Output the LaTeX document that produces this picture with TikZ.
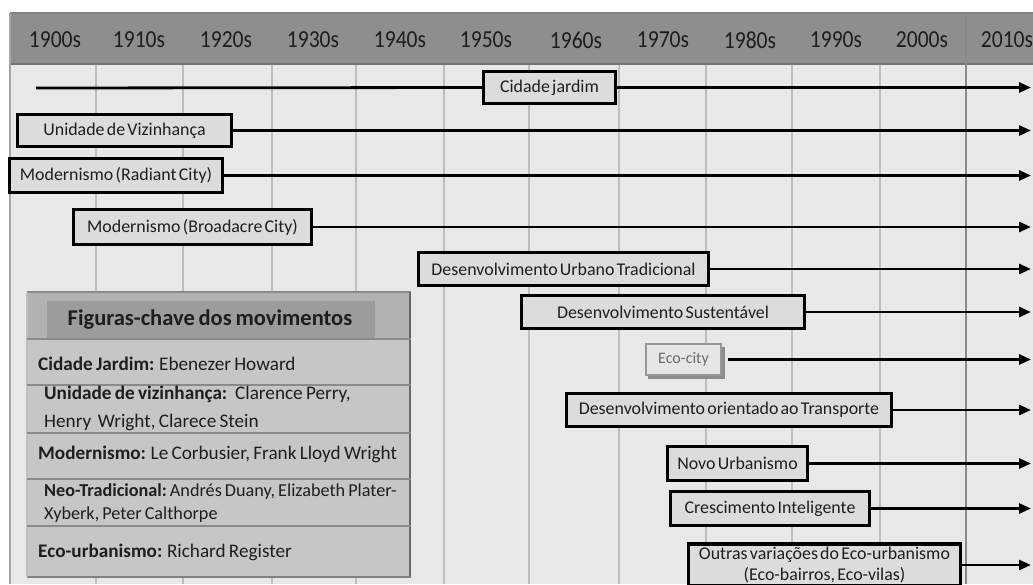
\documentclass[tikz,border=0pt]{standalone}
\usepackage{fontspec}
\setmainfont{Carlito}[WordSpace=0.55]
\newfontfamily\hdrfont{Carlito}[FakeStretch=0.88,WordSpace=0.55]
\newfontfamily\pfont{Carlito}[WordSpace=0.75]
\usetikzlibrary{arrows.meta}
\definecolor{hdrgray}{HTML}{8E8E8E}
\definecolor{bodygray}{HTML}{E8E8E8}
\definecolor{gridgray}{HTML}{BDBDBD}
\definecolor{boxgray}{HTML}{DCDCDC}
\definecolor{panelgray}{HTML}{C6C6C6}
\definecolor{paneltop}{HTML}{B2B2B2}
\definecolor{titlegray}{HTML}{9C9C9C}
\definecolor{sepgray}{HTML}{8A8A8A}
\definecolor{ink}{HTML}{1E1E1E}
\definecolor{ecoink}{HTML}{6A6A6A}
\tikzset{
  movbox/.style={draw=black, line width=3.2pt, fill=boxgray, inner sep=0pt, text=ink,
    font=\fontsize{17.9}{20.5}\selectfont, align=center},
  ecobox/.style={draw=gridgray!80!black, line width=2pt, fill=boxgray!70!white, inner sep=0pt,
    text=ecoink, font=\fontsize{16}{18}\selectfont},
  arr/.style={line width=2.8pt, -{Triangle[length=12pt,width=10pt]}},
  lead/.style={line width=2.8pt},
  hdrlab/.style={font=\hdrfont\fontsize{24.5}{26}\selectfont, text=ink, inner sep=0pt},
  ptext/.style={font=\pfont\fontsize{19.2}{23}\selectfont, text=ink, anchor=west, inner sep=0pt, align=left},
  ptitle/.style={font=\pfont\bfseries\fontsize{22.5}{25}\selectfont, text=ink, inner sep=0pt},
  grid/.style={draw=gridgray, line width=1.5pt},
  sep/.style={draw=sepgray, line width=2pt},
}
\begin{document}
\begin{tikzpicture}[x=1pt,y=-1pt]
\useasboundingbox (0,0) rectangle (1033,584);
\clip (0,0) rectangle (1033,584);
\fill[white] (0,0) rectangle (1033,584);
% body and header
\fill[bodygray] (10,64) rectangle (1033,584);
\fill[hdrgray] (10,13) rectangle (1033,64);
\draw[draw=gray, line width=1.5pt] (10,13) -- (1033,13);
\draw[draw=black!55, line width=2pt] (10,64) -- (1033,64);
\draw[draw=black!35, line width=1.5pt] (10,13) -- (10,584);
% column lines
\foreach \gx in {96,183,272,356,444,529,619,706,792,880}
  \draw[grid] (\gx,65) -- (\gx,584);
\draw[draw=sepgray, line width=2pt] (966,13) -- (966,584);
% header labels
\foreach \lab/\cx in {1900/55,1910/139,1920/226,1930/313,1940/400,1950/486,1960/576,1970/663,1980/750,1990/836,2000/922,2010/1007}
  \node[hdrlab] (h\lab) at (\cx,40) {\lab s};
% end coordinates
\coordinate (xend) at (1031,0);
\coordinate (cjL) at (36,88);
% movement boxes
\node[movbox, minimum width=132pt, minimum height=32pt] (cj) at (549.5,87.5) {Cidade jardim};
\node[movbox, minimum width=214pt, minimum height=32pt] (uv) at (124.5,130.5) {Unidade de Vizinhança};
\node[movbox, minimum width=213pt, minimum height=34pt] (mr) at (116,175.5) {Modernismo (Radiant City)};
\node[movbox, minimum width=238pt, minimum height=35pt] (mb) at (192.5,227) {Modernismo (Broadacre City)};
\node[movbox, minimum width=290pt, minimum height=33pt] (dut) at (563.5,269) {Desenvolvimento Urbano Tradicional};
\node[movbox, minimum width=283pt, minimum height=33pt] (ds) at (663,312) {Desenvolvimento Sustentável};
\fill[black!45] (647.5,346.5) rectangle (724.5,378.5);
\node[ecobox, minimum width=75pt, minimum height=31pt] (eco) at (683.5,359.5) {Eco-city};
\node[movbox, minimum width=325pt, minimum height=33pt] (dot) at (729,410) {Desenvolvimento orientado ao Transporte};
\node[movbox, minimum width=140pt, minimum height=34pt] (nu) at (737.5,463.5) {Novo Urbanismo};
\node[movbox, minimum width=199pt, minimum height=34pt] (ci) at (770,508.5) {Crescimento Inteligente};
\node[movbox, minimum width=272pt, minimum height=42pt] (ov) at (824.5,565) {Outras variações do Eco-urbanismo\\(Eco-bairros, Eco-vilas)};
% connectors
\draw[lead] (cjL) -- (cj.west);
\foreach \b in {cj,uv,mr,mb,dut,ds,dot,nu,ci,ov}
  \draw[arr] (\b.east) -- (\b.east -| xend);
\draw[arr] ([xshift=6pt]eco.east) -- (eco.east -| xend);
% key figures panel
\fill[panelgray] (27,292) rectangle (411,577);
\fill[paneltop] (27,292) rectangle (411,339);
\fill[titlegray] (47,301) rectangle (375,338);
\draw[sep] (27,292) -- (411,292);
\draw[draw=black!60, line width=2.5pt] (410,292) -- (410,577);
\draw[draw=black!50, line width=2.5pt] (27,577) -- (411,577);
\draw[draw=black!25, line width=1.5pt] (27,292) -- (27,577);
\foreach \sy in {339,385,433,479,526}
  \draw[sep] (27,\sy) -- (411,\sy);
\node[ptitle] (ptl) at (210,320) {Figuras-chave dos movimentos};
\node[ptext] (p1) at (38,364) {\textbf{Cidade Jardim:} Ebenezer Howard};
\node[ptext, font=\pfont\fontsize{19.2}{28}\selectfont] (p2) at (44,408) {\textbf{Unidade de vizinhança:} \ Clarence Perry,\\Henry \ Wright, Clarece Stein};
\node[ptext] (p3) at (38,454) {\textbf{Modernismo:} Le Corbusier, Frank Lloyd Wright};
\node[ptext, font=\pfont\fontsize{18.2}{23}\selectfont] (p4) at (44,503) {\textbf{Neo-Tradicional:}\,Andrés Duany, Elizabeth Plater-\\Xyberk, Peter Calthorpe};
\node[ptext] (p5) at (38,552) {\textbf{Eco-urbanismo:} Richard Register};
\end{tikzpicture}
\end{document}
